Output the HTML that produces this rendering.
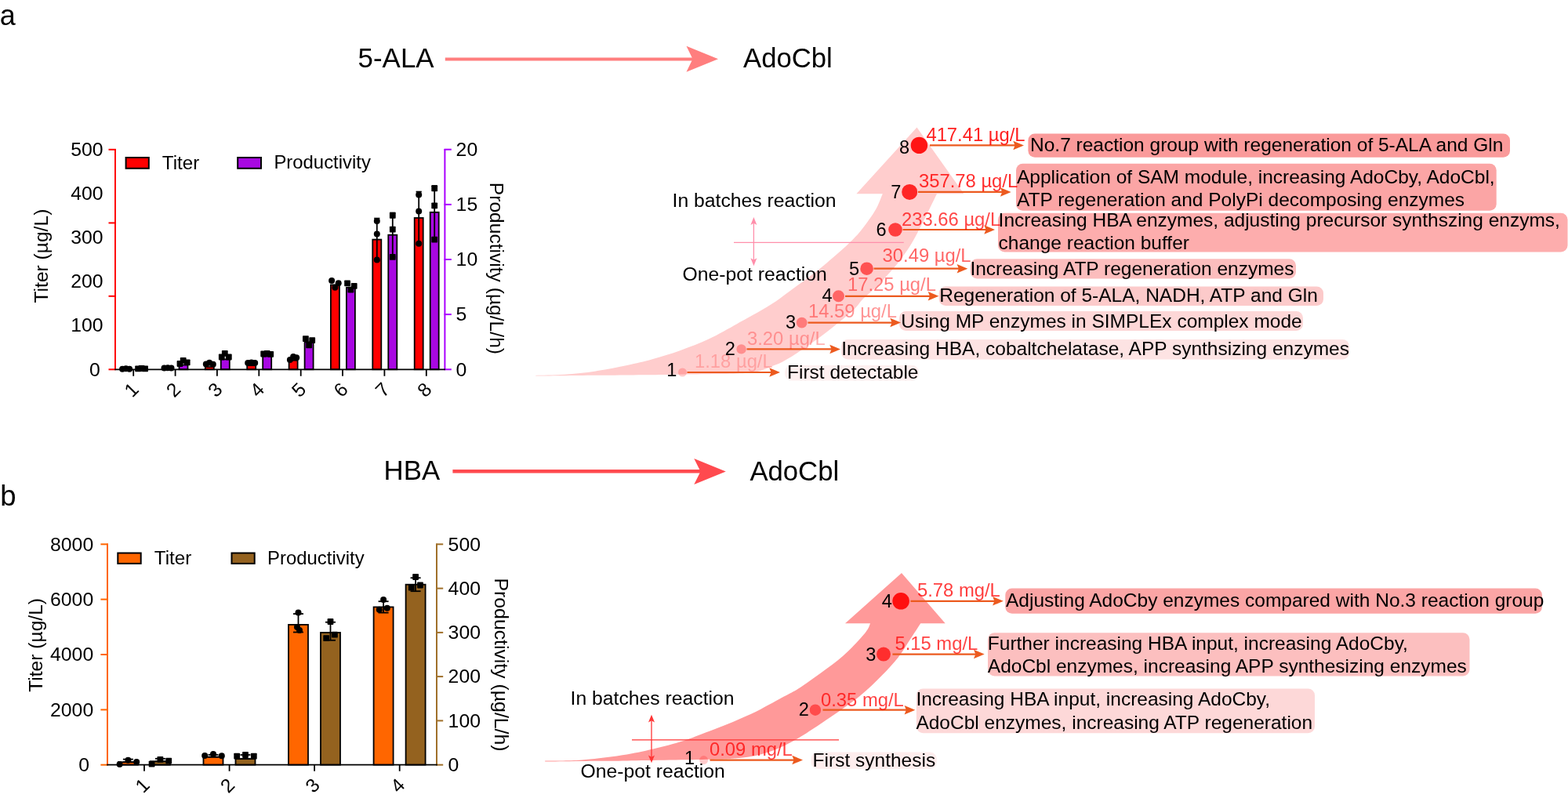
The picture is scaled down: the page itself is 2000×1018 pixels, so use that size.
<!DOCTYPE html>
<html><head><meta charset="utf-8"><title>Figure</title>
<style>
html,body{margin:0;padding:0;background:#fff;}
body{width:2000px;height:1018px;overflow:hidden;}
svg{display:block;}
svg text{font-family:"Liberation Sans", Arial, Helvetica, sans-serif;}
</style></head>
<body>
<svg width="2000" height="1018" viewBox="0 0 2000 1018">
<rect width="2000" height="1018" fill="#fff"/>
<text x="-0.3" y="31.8" font-size="36" fill="#000" text-anchor="start" >a</text>
<text x="0.2" y="644.7" font-size="36.5" fill="#000" text-anchor="start" >b</text>
<text x="456.6" y="85.8" font-size="34.9" fill="#000" text-anchor="start" >5-ALA</text>
<line x1="567.8" y1="75.4" x2="885" y2="75.4" stroke="#FF7E7E" stroke-width="4"/>
<path d="M916,75.3 L875.5,58.8 L883.5,75.3 L875.5,91.8 Z" fill="#FF7E7E"/>
<text x="948.0" y="85.75" font-size="34.7" fill="#000" text-anchor="start" >AdoCbl</text>
<text x="489.6" y="612.2" font-size="34.8" fill="#000" text-anchor="start" >HBA</text>
<line x1="577.4" y1="601.3" x2="895" y2="601.3" stroke="#FF4A4F" stroke-width="4.4"/>
<path d="M925.8,601.4 L885.3,584.9 L893.5,601.4 L885.3,617.9 Z" fill="#FF4A4F"/>
<text x="956.4" y="612.6" font-size="34.7" fill="#000" text-anchor="start" >AdoCbl</text>
<line x1="147" y1="189.89999999999998" x2="147" y2="472.1" stroke="#FF0000" stroke-width="2"/>
<line x1="138.5" y1="190.8" x2="147.8" y2="190.8" stroke="#FF0000" stroke-width="2"/>
<line x1="138.5" y1="284.4" x2="147.8" y2="284.4" stroke="#FF0000" stroke-width="2"/>
<line x1="138.5" y1="377.8" x2="147.8" y2="377.8" stroke="#FF0000" stroke-width="2"/>
<line x1="138.5" y1="471.3" x2="147.8" y2="471.3" stroke="#FF0000" stroke-width="2"/>
<text x="127.9" y="479.5" font-size="24.8" fill="#000" text-anchor="end" >0</text>
<text x="131.6" y="423.4" font-size="24.8" fill="#000" text-anchor="end" >100</text>
<text x="131.6" y="367.3" font-size="24.8" fill="#000" text-anchor="end" >200</text>
<text x="131.6" y="311.1" font-size="24.8" fill="#000" text-anchor="end" >300</text>
<text x="131.6" y="255.0" font-size="24.8" fill="#000" text-anchor="end" >400</text>
<text x="131.6" y="198.9" font-size="24.8" fill="#000" text-anchor="end" >500</text>
<line x1="567.4" y1="189.89999999999998" x2="567.4" y2="472.1" stroke="#AA00FF" stroke-width="2"/>
<line x1="566.6" y1="471.3" x2="575.8" y2="471.3" stroke="#AA00FF" stroke-width="2"/>
<text x="581.6" y="479.5" font-size="24.8" fill="#000" text-anchor="start" >0</text>
<line x1="566.6" y1="401.1" x2="575.8" y2="401.1" stroke="#AA00FF" stroke-width="2"/>
<text x="581.6" y="409.3" font-size="24.8" fill="#000" text-anchor="start" >5</text>
<line x1="566.6" y1="331.0" x2="575.8" y2="331.0" stroke="#AA00FF" stroke-width="2"/>
<text x="581.6" y="339.2" font-size="24.8" fill="#000" text-anchor="start" >10</text>
<line x1="566.6" y1="260.9" x2="575.8" y2="260.9" stroke="#AA00FF" stroke-width="2"/>
<text x="581.6" y="269.1" font-size="24.8" fill="#000" text-anchor="start" >15</text>
<line x1="566.6" y1="190.7" x2="575.8" y2="190.7" stroke="#AA00FF" stroke-width="2"/>
<text x="581.6" y="198.9" font-size="24.8" fill="#000" text-anchor="start" >20</text>
<text transform="translate(61.2,326.6) rotate(-90)" font-size="24.6" text-anchor="middle">Titer (µg/L)</text>
<text transform="translate(624.8,342.4) rotate(90)" font-size="24.6" text-anchor="middle">Productivity (µg/L/h)</text>
<rect x="160.6" y="201" width="29.2" height="13.8" fill="#FF0000" stroke="#000" stroke-width="2"/>
<text x="206.8" y="215.6" font-size="24.2" fill="#000" text-anchor="start" >Titer</text>
<rect x="303.2" y="201" width="29.8" height="13.8" fill="#A808E2" stroke="#000" stroke-width="2"/>
<text x="349.4" y="215.3" font-size="23.9" fill="#000" text-anchor="start" >Productivity</text>
<rect x="155.1" y="470.2" width="11.0" height="1.1" fill="#FF0000" stroke="#000" stroke-width="1.8"/>
<circle cx="156.1" cy="470.7" r="4.0" fill="#000"/>
<circle cx="160.6" cy="470.3" r="4.0" fill="#000"/>
<circle cx="165.1" cy="470.7" r="4.0" fill="#000"/>
<rect x="175.1" y="470.0" width="11.0" height="1.3" fill="#A808E2" stroke="#000" stroke-width="1.8"/>
<rect x="172.2" y="466.4" width="7.8" height="7.8" rx="0.8" fill="#000"/>
<rect x="176.7" y="466.1" width="7.8" height="7.8" rx="0.8" fill="#000"/>
<rect x="181.2" y="466.4" width="7.8" height="7.8" rx="0.8" fill="#000"/>
<rect x="208.5" y="469.6" width="11.0" height="1.7" fill="#FF0000" stroke="#000" stroke-width="1.8"/>
<circle cx="209.5" cy="469.6" r="4.0" fill="#000"/>
<circle cx="214.0" cy="469.2" r="4.0" fill="#000"/>
<circle cx="218.5" cy="469.6" r="4.0" fill="#000"/>
<rect x="228.5" y="465.5" width="11.0" height="5.8" fill="#A808E2" stroke="#000" stroke-width="1.8"/>
<rect x="225.6" y="460.1" width="7.8" height="7.8" rx="0.8" fill="#000"/>
<rect x="229.8" y="455.9" width="7.8" height="7.8" rx="0.8" fill="#000"/>
<rect x="234.8" y="458.4" width="7.8" height="7.8" rx="0.8" fill="#000"/>
<rect x="261.8" y="468.1" width="11.0" height="3.2" fill="#FF0000" stroke="#000" stroke-width="1.8"/>
<circle cx="262.8" cy="464.5" r="4.0" fill="#000"/>
<circle cx="267.1" cy="462.8" r="4.0" fill="#000"/>
<circle cx="271.8" cy="464.8" r="4.0" fill="#000"/>
<rect x="281.8" y="458.4" width="11.0" height="12.9" fill="#A808E2" stroke="#000" stroke-width="1.8"/>
<rect x="278.9" y="451.6" width="7.8" height="7.8" rx="0.8" fill="#000"/>
<rect x="282.9" y="446.9" width="7.8" height="7.8" rx="0.8" fill="#000"/>
<rect x="287.9" y="451.6" width="7.8" height="7.8" rx="0.8" fill="#000"/>
<rect x="315.2" y="466.2" width="11.0" height="5.1" fill="#FF0000" stroke="#000" stroke-width="1.8"/>
<circle cx="316.2" cy="463.0" r="4.0" fill="#000"/>
<circle cx="320.7" cy="462.6" r="4.0" fill="#000"/>
<circle cx="325.2" cy="463.0" r="4.0" fill="#000"/>
<rect x="335.2" y="454.5" width="11.0" height="16.8" fill="#A808E2" stroke="#000" stroke-width="1.8"/>
<rect x="332.3" y="447.6" width="7.8" height="7.8" rx="0.8" fill="#000"/>
<rect x="336.8" y="447.1" width="7.8" height="7.8" rx="0.8" fill="#000"/>
<rect x="341.3" y="447.9" width="7.8" height="7.8" rx="0.8" fill="#000"/>
<rect x="368.6" y="459.7" width="11.0" height="11.6" fill="#FF0000" stroke="#000" stroke-width="1.8"/>
<circle cx="369.9" cy="459.0" r="4.0" fill="#000"/>
<circle cx="374.1" cy="454.9" r="4.0" fill="#000"/>
<circle cx="378.2" cy="456.2" r="4.0" fill="#000"/>
<rect x="388.6" y="436.3" width="11.0" height="35.0" fill="#A808E2" stroke="#000" stroke-width="1.8"/>
<rect x="386.0" y="428.3" width="7.8" height="7.8" rx="0.8" fill="#000"/>
<rect x="390.2" y="436.5" width="7.8" height="7.8" rx="0.8" fill="#000"/>
<rect x="394.3" y="430.3" width="7.8" height="7.8" rx="0.8" fill="#000"/>
<rect x="421.9" y="363.4" width="11.0" height="107.9" fill="#FF0000" stroke="#000" stroke-width="1.8"/>
<circle cx="423.1" cy="357.9" r="4.0" fill="#000"/>
<circle cx="427.4" cy="366.8" r="4.0" fill="#000"/>
<circle cx="431.7" cy="361.3" r="4.0" fill="#000"/>
<rect x="441.9" y="366.8" width="11.0" height="104.5" fill="#A808E2" stroke="#000" stroke-width="1.8"/>
<rect x="439.2" y="357.4" width="7.8" height="7.8" rx="0.8" fill="#000"/>
<rect x="443.5" y="365.7" width="7.8" height="7.8" rx="0.8" fill="#000"/>
<rect x="447.8" y="360.9" width="7.8" height="7.8" rx="0.8" fill="#000"/>
<rect x="475.3" y="305.6" width="11.0" height="165.7" fill="#FF0000" stroke="#000" stroke-width="1.8"/>
<line x1="480.8" y1="278.6" x2="480.8" y2="332.6" stroke="#000" stroke-width="1.8"/>
<line x1="477.2" y1="278.6" x2="484.4" y2="278.6" stroke="#000" stroke-width="1.8"/>
<line x1="477.2" y1="332.6" x2="484.4" y2="332.6" stroke="#000" stroke-width="1.8"/>
<circle cx="480.8" cy="281.9" r="4.0" fill="#000"/>
<circle cx="480.8" cy="298.6" r="4.0" fill="#000"/>
<circle cx="480.8" cy="331.5" r="4.0" fill="#000"/>
<rect x="495.3" y="299.7" width="11.0" height="171.6" fill="#A808E2" stroke="#000" stroke-width="1.8"/>
<line x1="500.8" y1="271.5" x2="500.8" y2="327.9" stroke="#000" stroke-width="1.8"/>
<line x1="497.2" y1="271.5" x2="504.4" y2="271.5" stroke="#000" stroke-width="1.8"/>
<line x1="497.2" y1="327.9" x2="504.4" y2="327.9" stroke="#000" stroke-width="1.8"/>
<rect x="496.9" y="270.9" width="7.8" height="7.8" rx="0.8" fill="#000"/>
<rect x="496.9" y="288.8" width="7.8" height="7.8" rx="0.8" fill="#000"/>
<rect x="496.9" y="323.9" width="7.8" height="7.8" rx="0.8" fill="#000"/>
<rect x="528.7" y="278.0" width="11.0" height="193.3" fill="#FF0000" stroke="#000" stroke-width="1.8"/>
<line x1="534.2" y1="244.6" x2="534.2" y2="311.4" stroke="#000" stroke-width="1.8"/>
<line x1="530.6" y1="244.6" x2="537.8" y2="244.6" stroke="#000" stroke-width="1.8"/>
<line x1="530.6" y1="311.4" x2="537.8" y2="311.4" stroke="#000" stroke-width="1.8"/>
<circle cx="534.2" cy="248.4" r="4.0" fill="#000"/>
<circle cx="534.2" cy="269.4" r="4.0" fill="#000"/>
<circle cx="534.2" cy="310.8" r="4.0" fill="#000"/>
<rect x="548.7" y="270.8" width="11.0" height="200.5" fill="#A808E2" stroke="#000" stroke-width="1.8"/>
<line x1="554.2" y1="237.0" x2="554.2" y2="304.6" stroke="#000" stroke-width="1.8"/>
<line x1="550.6" y1="237.0" x2="557.8" y2="237.0" stroke="#000" stroke-width="1.8"/>
<line x1="550.6" y1="304.6" x2="557.8" y2="304.6" stroke="#000" stroke-width="1.8"/>
<rect x="550.3" y="236.4" width="7.8" height="7.8" rx="0.8" fill="#000"/>
<rect x="550.3" y="258.5" width="7.8" height="7.8" rx="0.8" fill="#000"/>
<rect x="550.3" y="301.7" width="7.8" height="7.8" rx="0.8" fill="#000"/>
<line x1="146.2" y1="471.3" x2="568" y2="471.3" stroke="#000" stroke-width="1.8"/>
<line x1="170.2" y1="471.3" x2="170.2" y2="479.8" stroke="#000" stroke-width="1.8"/>
<text transform="translate(178.5,498.3) rotate(-45)" font-size="24.5" text-anchor="end">1</text>
<line x1="223.6" y1="471.3" x2="223.6" y2="479.8" stroke="#000" stroke-width="1.8"/>
<text transform="translate(231.9,498.3) rotate(-45)" font-size="24.5" text-anchor="end">2</text>
<line x1="276.9" y1="471.3" x2="276.9" y2="479.8" stroke="#000" stroke-width="1.8"/>
<text transform="translate(285.2,498.3) rotate(-45)" font-size="24.5" text-anchor="end">3</text>
<line x1="330.3" y1="471.3" x2="330.3" y2="479.8" stroke="#000" stroke-width="1.8"/>
<text transform="translate(338.6,498.3) rotate(-45)" font-size="24.5" text-anchor="end">4</text>
<line x1="383.7" y1="471.3" x2="383.7" y2="479.8" stroke="#000" stroke-width="1.8"/>
<text transform="translate(392.0,498.3) rotate(-45)" font-size="24.5" text-anchor="end">5</text>
<line x1="437.0" y1="471.3" x2="437.0" y2="479.8" stroke="#000" stroke-width="1.8"/>
<text transform="translate(445.3,498.3) rotate(-45)" font-size="24.5" text-anchor="end">6</text>
<line x1="490.4" y1="471.3" x2="490.4" y2="479.8" stroke="#000" stroke-width="1.8"/>
<text transform="translate(498.7,498.3) rotate(-45)" font-size="24.5" text-anchor="end">7</text>
<line x1="543.8" y1="471.3" x2="543.8" y2="479.8" stroke="#000" stroke-width="1.8"/>
<text transform="translate(552.1,498.3) rotate(-45)" font-size="24.5" text-anchor="end">8</text>
<line x1="137" y1="693.5" x2="137" y2="976.5" stroke="#FF6600" stroke-width="2"/>
<line x1="128.4" y1="975.7" x2="137.8" y2="975.7" stroke="#FF6600" stroke-width="2"/>
<text x="114.0" y="983.9" font-size="24.8" fill="#000" text-anchor="end" >0</text>
<line x1="128.4" y1="905.4" x2="137.8" y2="905.4" stroke="#FF6600" stroke-width="2"/>
<text x="119.2" y="913.6" font-size="24.8" fill="#000" text-anchor="end" >2000</text>
<line x1="128.4" y1="835.0" x2="137.8" y2="835.0" stroke="#FF6600" stroke-width="2"/>
<text x="119.2" y="843.2" font-size="24.8" fill="#000" text-anchor="end" >4000</text>
<line x1="128.4" y1="764.6" x2="137.8" y2="764.6" stroke="#FF6600" stroke-width="2"/>
<text x="119.2" y="772.9" font-size="24.8" fill="#000" text-anchor="end" >6000</text>
<line x1="128.4" y1="694.3" x2="137.8" y2="694.3" stroke="#FF6600" stroke-width="2"/>
<text x="119.2" y="702.5" font-size="24.8" fill="#000" text-anchor="end" >8000</text>
<line x1="557" y1="693.5" x2="557" y2="976.5" stroke="#A0702A" stroke-width="2"/>
<line x1="556.2" y1="975.7" x2="565.2" y2="975.7" stroke="#A0702A" stroke-width="2"/>
<text x="571.6" y="983.9" font-size="24.8" fill="#000" text-anchor="start" >0</text>
<line x1="556.2" y1="919.4" x2="565.2" y2="919.4" stroke="#A0702A" stroke-width="2"/>
<text x="571.6" y="927.6" font-size="24.8" fill="#000" text-anchor="start" >100</text>
<line x1="556.2" y1="863.1" x2="565.2" y2="863.1" stroke="#A0702A" stroke-width="2"/>
<text x="571.6" y="871.3" font-size="24.8" fill="#000" text-anchor="start" >200</text>
<line x1="556.2" y1="806.9" x2="565.2" y2="806.9" stroke="#A0702A" stroke-width="2"/>
<text x="571.6" y="815.1" font-size="24.8" fill="#000" text-anchor="start" >300</text>
<line x1="556.2" y1="750.6" x2="565.2" y2="750.6" stroke="#A0702A" stroke-width="2"/>
<text x="571.6" y="758.8" font-size="24.8" fill="#000" text-anchor="start" >400</text>
<line x1="556.2" y1="694.3" x2="565.2" y2="694.3" stroke="#A0702A" stroke-width="2"/>
<text x="571.6" y="702.5" font-size="24.8" fill="#000" text-anchor="start" >500</text>
<text transform="translate(53.9,822.9) rotate(-90)" font-size="24.6" text-anchor="middle">Titer (µg/L)</text>
<text transform="translate(631.4,848) rotate(90)" font-size="24.8" text-anchor="middle">Productivity (µg/L/h)</text>
<rect x="150.3" y="705.5" width="29.4" height="13.4" fill="#FF6600" stroke="#000" stroke-width="2"/>
<text x="196.8" y="719.9" font-size="24.2" fill="#000" text-anchor="start" >Titer</text>
<rect x="295.5" y="705.5" width="29.2" height="13.4" fill="#94621F" stroke="#000" stroke-width="2"/>
<text x="341.1" y="719.8" font-size="23.9" fill="#000" text-anchor="start" >Productivity</text>
<rect x="150.9" y="972.2" width="25.0" height="3.5" fill="#FF6600" stroke="#000" stroke-width="1.8"/>
<line x1="163.4" y1="968.6" x2="163.4" y2="972.2" stroke="#000" stroke-width="1.8"/>
<line x1="156.9" y1="968.6" x2="169.9" y2="968.6" stroke="#000" stroke-width="1.8"/>
<line x1="156.9" y1="972.2" x2="169.9" y2="972.2" stroke="#000" stroke-width="1.8"/>
<circle cx="152.6" cy="974.9" r="4.0" fill="#000"/>
<circle cx="163.4" cy="969.7" r="4.0" fill="#000"/>
<circle cx="174.2" cy="971.9" r="4.0" fill="#000"/>
<rect x="191.9" y="971.3" width="25.0" height="4.4" fill="#94621F" stroke="#000" stroke-width="1.8"/>
<line x1="204.4" y1="967.8" x2="204.4" y2="971.3" stroke="#000" stroke-width="1.8"/>
<line x1="197.9" y1="967.8" x2="210.9" y2="967.8" stroke="#000" stroke-width="1.8"/>
<line x1="197.9" y1="971.3" x2="210.9" y2="971.3" stroke="#000" stroke-width="1.8"/>
<rect x="189.7" y="970.7" width="7.8" height="7.8" rx="0.8" fill="#000"/>
<rect x="200.5" y="964.9" width="7.8" height="7.8" rx="0.8" fill="#000"/>
<rect x="211.3" y="966.7" width="7.8" height="7.8" rx="0.8" fill="#000"/>
<rect x="259.5" y="965.7" width="25.0" height="10.0" fill="#FF6600" stroke="#000" stroke-width="1.8"/>
<line x1="272.0" y1="962.8" x2="272.0" y2="965.7" stroke="#000" stroke-width="1.8"/>
<line x1="265.5" y1="962.8" x2="278.5" y2="962.8" stroke="#000" stroke-width="1.8"/>
<line x1="265.5" y1="965.7" x2="278.5" y2="965.7" stroke="#000" stroke-width="1.8"/>
<circle cx="261.2" cy="964.0" r="4.0" fill="#000"/>
<circle cx="272.0" cy="962.0" r="4.0" fill="#000"/>
<circle cx="282.8" cy="964.3" r="4.0" fill="#000"/>
<rect x="300.5" y="968.1" width="25.0" height="7.6" fill="#94621F" stroke="#000" stroke-width="1.8"/>
<line x1="313.0" y1="963.0" x2="313.0" y2="968.1" stroke="#000" stroke-width="1.8"/>
<line x1="306.5" y1="963.0" x2="319.5" y2="963.0" stroke="#000" stroke-width="1.8"/>
<line x1="306.5" y1="968.1" x2="319.5" y2="968.1" stroke="#000" stroke-width="1.8"/>
<rect x="298.3" y="960.8" width="7.8" height="7.8" rx="0.8" fill="#000"/>
<rect x="309.1" y="959.1" width="7.8" height="7.8" rx="0.8" fill="#000"/>
<rect x="319.9" y="960.8" width="7.8" height="7.8" rx="0.8" fill="#000"/>
<rect x="368.0" y="796.9" width="25.0" height="178.8" fill="#FF6600" stroke="#000" stroke-width="1.8"/>
<line x1="380.5" y1="783.1" x2="380.5" y2="806.5" stroke="#000" stroke-width="1.8"/>
<line x1="374.0" y1="783.1" x2="387.0" y2="783.1" stroke="#000" stroke-width="1.8"/>
<line x1="374.0" y1="806.5" x2="387.0" y2="806.5" stroke="#000" stroke-width="1.8"/>
<circle cx="380.5" cy="781.5" r="4.0" fill="#000"/>
<circle cx="379.0" cy="800.0" r="4.0" fill="#000"/>
<circle cx="382.0" cy="804.0" r="4.0" fill="#000"/>
<rect x="409.0" y="807.0" width="25.0" height="168.7" fill="#94621F" stroke="#000" stroke-width="1.8"/>
<line x1="421.5" y1="793.7" x2="421.5" y2="816.8" stroke="#000" stroke-width="1.8"/>
<line x1="415.0" y1="793.7" x2="428.0" y2="793.7" stroke="#000" stroke-width="1.8"/>
<line x1="415.0" y1="816.8" x2="428.0" y2="816.8" stroke="#000" stroke-width="1.8"/>
<rect x="417.6" y="789.1" width="7.8" height="7.8" rx="0.8" fill="#000"/>
<rect x="412.3" y="810.3" width="7.8" height="7.8" rx="0.8" fill="#000"/>
<rect x="423.0" y="805.8" width="7.8" height="7.8" rx="0.8" fill="#000"/>
<rect x="476.6" y="774.4" width="25.0" height="201.3" fill="#FF6600" stroke="#000" stroke-width="1.8"/>
<line x1="489.1" y1="767.2" x2="489.1" y2="781.6" stroke="#000" stroke-width="1.8"/>
<line x1="482.6" y1="767.2" x2="495.6" y2="767.2" stroke="#000" stroke-width="1.8"/>
<line x1="482.6" y1="781.6" x2="495.6" y2="781.6" stroke="#000" stroke-width="1.8"/>
<circle cx="489.1" cy="765.0" r="4.0" fill="#000"/>
<circle cx="483.8" cy="777.8" r="4.0" fill="#000"/>
<circle cx="493.8" cy="775.7" r="4.0" fill="#000"/>
<rect x="517.6" y="745.7" width="25.0" height="230.0" fill="#94621F" stroke="#000" stroke-width="1.8"/>
<line x1="530.1" y1="737.2" x2="530.1" y2="754.2" stroke="#000" stroke-width="1.8"/>
<line x1="523.6" y1="737.2" x2="536.6" y2="737.2" stroke="#000" stroke-width="1.8"/>
<line x1="523.6" y1="754.2" x2="536.6" y2="754.2" stroke="#000" stroke-width="1.8"/>
<rect x="526.2" y="732.1" width="7.8" height="7.8" rx="0.8" fill="#000"/>
<rect x="520.9" y="745.8" width="7.8" height="7.8" rx="0.8" fill="#000"/>
<rect x="532.1" y="742.6" width="7.8" height="7.8" rx="0.8" fill="#000"/>
<line x1="136.2" y1="975.7" x2="557.8" y2="975.7" stroke="#000" stroke-width="1.8"/>
<line x1="184.0" y1="975.7" x2="184.0" y2="983.8" stroke="#000" stroke-width="1.8"/>
<text transform="translate(192.3,1003.0) rotate(-45)" font-size="24.5" text-anchor="end">1</text>
<line x1="292.6" y1="975.7" x2="292.6" y2="983.8" stroke="#000" stroke-width="1.8"/>
<text transform="translate(300.9,1003.0) rotate(-45)" font-size="24.5" text-anchor="end">2</text>
<line x1="401.1" y1="975.7" x2="401.1" y2="983.8" stroke="#000" stroke-width="1.8"/>
<text transform="translate(409.4,1003.0) rotate(-45)" font-size="24.5" text-anchor="end">3</text>
<line x1="509.7" y1="975.7" x2="509.7" y2="983.8" stroke="#000" stroke-width="1.8"/>
<text transform="translate(518.0,1003.0) rotate(-45)" font-size="24.5" text-anchor="end">4</text>
<path d="M683.2,478.9 C689.3,478.7 707.2,478.7 720.0,477.8 C732.8,476.9 746.7,475.4 760.0,473.4 C773.3,471.4 788.0,468.4 800.0,465.9 C812.0,463.4 820.7,461.5 832.0,458.3 C843.3,455.1 856.0,451.2 868.0,446.9 C880.0,442.6 892.0,438.1 904.0,432.5 C916.0,426.9 930.7,418.3 940.0,413.2 C949.3,408.1 952.7,406.2 960.0,402.1 C967.3,398.0 975.7,393.4 983.6,388.3 C991.5,383.2 999.5,377.0 1007.2,371.4 C1014.9,365.8 1023.5,359.5 1030.0,354.7 C1036.5,349.9 1040.8,346.7 1046.0,342.5 C1051.2,338.3 1056.9,333.4 1061.4,329.5 C1065.9,325.6 1069.3,322.8 1073.2,319.3 C1077.1,315.8 1081.1,312.2 1085.0,308.3 C1088.9,304.4 1092.9,300.4 1096.8,295.7 C1100.7,291.0 1105.1,285.0 1108.6,280.0 C1112.1,275.0 1115.1,270.9 1118.0,265.5 C1120.9,260.1 1124.5,250.3 1125.8,247.3 L1092.4,247.3 L1169.5,162.5 L1229.5,247.3 L1195,247.3 C1193.4,250.5 1188.9,259.8 1185.5,266.7 C1182.1,273.6 1178.2,281.6 1174.5,288.7 C1170.8,295.8 1167.4,302.6 1163.5,309.2 C1159.6,315.8 1155.2,322.2 1151.0,328.0 C1146.8,333.8 1143.7,337.8 1138.4,343.8 C1133.2,349.8 1125.8,357.9 1119.5,364.2 C1113.2,370.5 1106.2,375.9 1100.6,381.5 C1095.0,387.1 1095.3,389.6 1086.0,397.8 C1076.7,406.0 1058.7,420.7 1045.0,430.8 C1031.3,440.9 1014.0,452.2 1003.8,458.3 C993.6,464.4 990.5,464.8 984.0,467.5 C977.5,470.2 972.3,472.8 965.0,474.3 C957.7,475.8 950.8,476.1 940.0,476.6 C929.2,477.1 915.0,477.1 900.0,477.3 C885.0,477.5 873.3,477.6 850.0,477.9 C826.7,478.1 787.8,478.5 760.0,478.8 C732.2,479.1 696.0,479.5 683.2,479.6 Z" fill="#FFCDCD"/>
<line x1="936" y1="309.3" x2="1152.8" y2="309.3" stroke="#FF8FAB" stroke-width="1.2"/>
<line x1="961.4" y1="284" x2="961.4" y2="332" stroke="#FF8FAB" stroke-width="1.3"/>
<path d="M961.4,277 L965.4,287 L961.4,284.8 L957.4,287 Z" fill="#FF8FAB"/>
<path d="M961.4,339.2 L965.4,329.3 L961.4,331.5 L957.4,329.3 Z" fill="#FF8FAB"/>
<text x="857.5" y="264.4" font-size="24.75" fill="#000" text-anchor="start" >In batches reaction</text>
<text x="870.5" y="358" font-size="24.75" fill="#000" text-anchor="start" >One-pot reaction</text>
<rect x="1001" y="466" width="171" height="19.5" rx="8.5" fill="#FEF0F0"/>
<rect x="1073" y="433" width="648" height="25.5" rx="8.5" fill="#FDE3E3"/>
<rect x="1147" y="397" width="515" height="25" rx="8.5" fill="#FDD7D7"/>
<rect x="1197.7" y="365.6" width="490.3" height="24.4" rx="8.5" fill="#FCCACA"/>
<rect x="1237.8" y="330.2" width="415.2" height="25.3" rx="8.5" fill="#FCBDBD"/>
<rect x="1273" y="271.7" width="726.5" height="49.9" rx="8.5" fill="#FDADAD"/>
<rect x="1296" y="208.8" width="612.7" height="60.0" rx="8.5" fill="#FBA5A5"/>
<rect x="1311.4" y="170.5" width="614.6" height="30.2" rx="8.5" fill="#FA9A9A"/>
<line x1="876.5" y1="475.0" x2="984.3" y2="475.0" stroke="#EC5A1F" stroke-width="2.2"/>
<path d="M995.0,475.0 L981.3,469.25 L983.5999999999999,475.0 L981.3,480.75 Z" fill="#EC5A1F"/>
<circle cx="870.5" cy="475.0" r="5.5" fill="#FF0000" fill-opacity="0.2"/>
<text x="850.2" y="479.9" font-size="23.6" fill="#000" text-anchor="start" >1</text>
<text x="886" y="469.2" font-size="23.8" fill="#FF0000" text-anchor="start" fill-opacity="0.22">1.18 µg/L</text>
<text x="1004" y="482.7" font-size="24.5" fill="#000" text-anchor="start" >First detectable</text>
<line x1="952.5" y1="445.4" x2="1061.3" y2="445.4" stroke="#EC5A1F" stroke-width="2.2"/>
<path d="M1072.0,445.4 L1058.3,439.65 L1060.6,445.4 L1058.3,451.15 Z" fill="#EC5A1F"/>
<circle cx="945.6" cy="445.4" r="6.2" fill="#FF0000" fill-opacity="0.3"/>
<text x="924.8" y="453.4" font-size="23.6" fill="#000" text-anchor="start" >2</text>
<text x="953" y="440" font-size="23.8" fill="#FF0000" text-anchor="start" fill-opacity="0.3">3.20 µg/L</text>
<text x="1073.2" y="452.6" font-size="24.5" fill="#000" text-anchor="start" >Increasing HBA, cobaltchelatase, APP synthsizing enzymes</text>
<line x1="1030.5" y1="411.6" x2="1138.3" y2="411.6" stroke="#EC5A1F" stroke-width="2.2"/>
<path d="M1149.0,411.6 L1135.3,405.85 L1137.6,411.6 L1135.3,417.35 Z" fill="#EC5A1F"/>
<circle cx="1022.7" cy="411.6" r="6.9" fill="#FF0000" fill-opacity="0.4"/>
<text x="1002" y="419.2" font-size="23.6" fill="#000" text-anchor="start" >3</text>
<text x="1031" y="405.2" font-size="23.8" fill="#FF0000" text-anchor="start" fill-opacity="0.42">14.59 µg/L</text>
<text x="1149.2" y="418" font-size="24.5" fill="#000" text-anchor="start" >Using MP enzymes in SIMPLEx complex mode</text>
<line x1="1078" y1="377.8" x2="1186.7" y2="377.8" stroke="#EC5A1F" stroke-width="2.2"/>
<path d="M1197.4,377.8 L1183.7,372.05 L1186.0,377.8 L1183.7,383.55 Z" fill="#EC5A1F"/>
<circle cx="1069.5" cy="377.8" r="7.5" fill="#FF0000" fill-opacity="0.5"/>
<text x="1048.4" y="385.3" font-size="23.6" fill="#000" text-anchor="start" >4</text>
<text x="1081" y="370.8" font-size="23.8" fill="#FF0000" text-anchor="start" fill-opacity="0.5">17.25 µg/L</text>
<text x="1198.3" y="385" font-size="24.5" fill="#000" text-anchor="start" >Regeneration of 5-ALA, NADH, ATP and Gln</text>
<line x1="1114.5" y1="342.7" x2="1223.6" y2="342.7" stroke="#EC5A1F" stroke-width="2.2"/>
<path d="M1234.3,342.7 L1220.6,336.95 L1222.8999999999999,342.7 L1220.6,348.45 Z" fill="#EC5A1F"/>
<circle cx="1105.6" cy="342.7" r="8.3" fill="#FF0000" fill-opacity="0.6"/>
<text x="1083" y="350.8" font-size="23.6" fill="#000" text-anchor="start" >5</text>
<text x="1125.6" y="334.3" font-size="23.8" fill="#FF0000" text-anchor="start" fill-opacity="0.6">30.49 µg/L</text>
<text x="1237.4" y="351" font-size="24.5" fill="#000" text-anchor="start" >Increasing ATP regeneration enzymes</text>
<line x1="1151.5" y1="293.0" x2="1258.3" y2="293.0" stroke="#EC5A1F" stroke-width="2.2"/>
<path d="M1269.0,293.0 L1255.3,287.25 L1257.6,293.0 L1255.3,298.75 Z" fill="#EC5A1F"/>
<circle cx="1142" cy="293.0" r="8.8" fill="#FF0000" fill-opacity="0.7"/>
<text x="1117.5" y="301.3" font-size="23.6" fill="#000" text-anchor="start" >6</text>
<text x="1150" y="288" font-size="23.8" fill="#FF0000" text-anchor="start" fill-opacity="0.72">233.66 µg/L</text>
<text x="1273.6" y="289" font-size="24.5" fill="#000" text-anchor="start" >Increasing HBA enzymes, adjusting precursor synthszing enzyms,</text>
<text x="1273.6" y="317.8" font-size="24.5" fill="#000" text-anchor="start" >change reaction buffer</text>
<line x1="1171" y1="244.9" x2="1278.8999999999999" y2="244.9" stroke="#EC5A1F" stroke-width="2.2"/>
<path d="M1289.6,244.9 L1275.8999999999999,239.15 L1278.1999999999998,244.9 L1275.8999999999999,250.65 Z" fill="#EC5A1F"/>
<circle cx="1160.2" cy="244.9" r="10.0" fill="#FF0000" fill-opacity="0.82"/>
<text x="1136.2" y="253.3" font-size="23.6" fill="#000" text-anchor="start" >7</text>
<text x="1172" y="238.8" font-size="23.8" fill="#FF0000" text-anchor="start" fill-opacity="0.82">357.78 µg/L</text>
<text x="1297" y="234" font-size="24.5" fill="#000" text-anchor="start" >Application of SAM module, increasing AdoCby, AdoCbl,</text>
<text x="1297" y="262.8" font-size="24.5" fill="#000" text-anchor="start" >ATP regeneration and PolyPi decomposing enzymes</text>
<line x1="1186" y1="185.4" x2="1295.3" y2="185.4" stroke="#EC5A1F" stroke-width="2.2"/>
<path d="M1306.0,185.4 L1292.3,179.65 L1294.6,185.4 L1292.3,191.15 Z" fill="#EC5A1F"/>
<circle cx="1172.4" cy="185.4" r="10.7" fill="#FF0000" fill-opacity="0.9"/>
<text x="1147.1" y="195.5" font-size="23.6" fill="#000" text-anchor="start" >8</text>
<text x="1181.4" y="180.2" font-size="23.8" fill="#FF0000" text-anchor="start" fill-opacity="0.88">417.41 µg/L</text>
<text x="1314" y="193" font-size="24.5" fill="#000" text-anchor="start" >No.7 reaction group with regeneration of 5-ALA and Gln</text>
<path d="M695.2,970.6 C703.0,970.4 725.5,970.7 742.0,969.5 C758.5,968.3 778.8,965.6 794.0,963.2 C809.2,960.9 820.0,958.4 833.0,955.4 C846.0,952.4 860.8,948.5 872.0,945.0 C883.2,941.5 891.4,937.8 900.0,934.6 C908.6,931.4 915.7,928.8 923.6,925.6 C931.5,922.4 939.3,918.9 947.2,915.4 C955.1,911.9 962.0,908.9 970.8,904.4 C979.6,899.9 991.8,893.1 1000.0,888.6 C1008.2,884.1 1012.2,882.4 1020.0,877.4 C1027.8,872.4 1037.8,865.2 1047.0,858.5 C1056.2,851.8 1066.8,844.1 1075.0,837.0 C1083.2,829.9 1090.7,821.6 1096.0,816.0 C1101.3,810.4 1104.3,806.6 1106.6,803.1 C1108.9,799.6 1109.4,796.5 1110.0,795.2 L1078,795.2 L1150,731 L1205.7,795.2 L1174.2,795.2 C1172.0,798.6 1165.9,808.1 1161.0,815.5 C1156.1,822.9 1151.1,831.8 1145.0,839.5 C1138.9,847.2 1132.6,853.9 1124.5,862.0 C1116.4,870.1 1107.7,879.0 1096.6,888.0 C1085.5,897.0 1069.3,907.9 1057.9,915.8 C1046.5,923.7 1038.1,929.4 1028.4,935.4 C1018.8,941.4 1009.7,947.0 1000.0,951.5 C990.3,956.0 980.0,959.9 970.0,962.5 C960.0,965.1 950.8,966.2 940.0,967.3 C929.2,968.3 928.3,968.3 905.0,968.8 C881.7,969.3 827.5,970.0 800.0,970.4 C772.5,970.8 757.5,970.8 740.0,971.0 C722.5,971.2 702.7,971.5 695.2,971.6 Z" fill="#FF9999"/>
<line x1="806" y1="943.8" x2="1070" y2="943.8" stroke="#FF3535" stroke-width="1.3"/>
<line x1="831" y1="918" x2="831" y2="967" stroke="#FF3535" stroke-width="1.3"/>
<path d="M831,911.8 L835,921.5 L831,919.3 L827,921.5 Z" fill="#FF3535"/>
<path d="M831,973.2 L835,963.5 L831,965.7 L827,963.5 Z" fill="#FF3535"/>
<text x="727.5" y="899.2" font-size="24.75" fill="#000" text-anchor="start" >In batches reaction</text>
<text x="740.5" y="992" font-size="24.75" fill="#000" text-anchor="start" >One-pot reaction</text>
<rect x="1034.6" y="959.4" width="160.1" height="21.3" rx="8.5" fill="#FEEDED"/>
<rect x="1168.9" y="878.6" width="508.1" height="56.7" rx="8.5" fill="#FDD8D8"/>
<rect x="1260" y="807.2" width="614.5" height="55.4" rx="8.5" fill="#FCBFBF"/>
<rect x="1282.3" y="750.5" width="684.6" height="32.3" rx="8.5" fill="#FBA5A5"/>
<line x1="905.5" y1="969.6" x2="1013.3" y2="969.6" stroke="#EC5A1F" stroke-width="2.2"/>
<path d="M1024.0,969.6 L1010.3,963.85 L1012.5999999999999,969.6 L1010.3,975.35 Z" fill="#EC5A1F"/>
<circle cx="897.6" cy="969.6" r="5.5" fill="#FF0000" fill-opacity="0.2"/>
<text x="873.1" y="974.9" font-size="23.6" fill="#000" text-anchor="start" >1</text>
<text x="905" y="964.4" font-size="23.8" fill="#FF0000" text-anchor="start" fill-opacity="0.74">0.09 mg/L</text>
<text x="1036.6" y="977.7" font-size="24.5" fill="#000" text-anchor="start" >First synthesis</text>
<line x1="1049.5" y1="905.7" x2="1156.6" y2="905.7" stroke="#EC5A1F" stroke-width="2.2"/>
<path d="M1167.3,905.7 L1153.6,899.95 L1155.8999999999999,905.7 L1153.6,911.45 Z" fill="#EC5A1F"/>
<circle cx="1039.9" cy="905.7" r="7.2" fill="#FF0000" fill-opacity="0.5"/>
<text x="1018.8" y="912.8" font-size="23.6" fill="#000" text-anchor="start" >2</text>
<text x="1047" y="900.8" font-size="23.8" fill="#FF0000" text-anchor="start" fill-opacity="0.74">0.35 mg/L</text>
<text x="1168.4" y="900.4" font-size="24.5" fill="#000" text-anchor="start" >Increasing HBA input, increasing AdoCby,</text>
<text x="1168.4" y="929.8" font-size="24.5" fill="#000" text-anchor="start" >AdoCbl enzymes, increasing ATP regeneration</text>
<line x1="1138.5" y1="834.6" x2="1245.0" y2="834.6" stroke="#EC5A1F" stroke-width="2.2"/>
<path d="M1255.7,834.6 L1242.0,828.85 L1244.3,834.6 L1242.0,840.35 Z" fill="#EC5A1F"/>
<circle cx="1127" cy="834.6" r="9.0" fill="#FF0000" fill-opacity="0.7"/>
<text x="1104.2" y="842.9" font-size="23.6" fill="#000" text-anchor="start" >3</text>
<text x="1141.4" y="828.9" font-size="23.8" fill="#FF0000" text-anchor="start" fill-opacity="0.74">5.15 mg/L</text>
<text x="1259.8" y="829" font-size="24.5" fill="#000" text-anchor="start" >Further increasing HBA input, increasing AdoCby,</text>
<text x="1259.8" y="858.4" font-size="24.5" fill="#000" text-anchor="start" >AdoCbl enzymes, increasing APP synthesizing enzymes</text>
<line x1="1161.5" y1="766.8" x2="1269.1" y2="766.8" stroke="#EC5A1F" stroke-width="2.2"/>
<path d="M1279.8,766.8 L1266.1,761.05 L1268.3999999999999,766.8 L1266.1,772.55 Z" fill="#EC5A1F"/>
<circle cx="1149.1" cy="766.8" r="10.8" fill="#FF0000" fill-opacity="0.9"/>
<text x="1124.7" y="774.8" font-size="23.6" fill="#000" text-anchor="start" >4</text>
<text x="1170" y="761.1" font-size="23.8" fill="#FF0000" text-anchor="start" fill-opacity="0.76">5.78 mg/L</text>
<text x="1283" y="773.8" font-size="24.5" fill="#000" text-anchor="start" >Adjusting AdoCby enzymes compared with No.3 reaction group</text>
</svg>
</body></html>
